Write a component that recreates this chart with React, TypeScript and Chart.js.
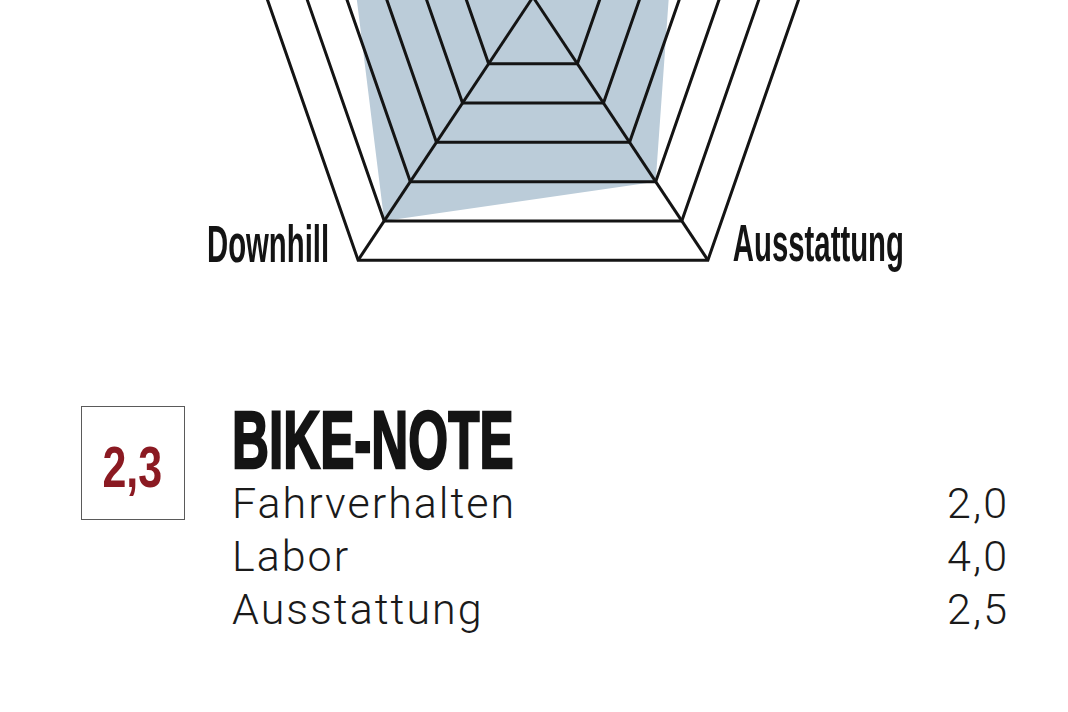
import React, { useEffect, useRef } from 'react';
import { Chart, RadialLinearScale, registerables } from 'chart.js';

Chart.register(...registerables);

// radar data, clockwise from the top spoke (only the two bottom spokes are inside the crop)
const axisLabels = ['Uphill', 'Labor', 'Ausstattung', 'Downhill', 'Fahrverhalten'];
const radarValues = [4, 2.4, 4, 5, 3.4];
const ringValues = [1, 2, 3, 4, 5, 6];
const scaleMin = -0.7;
const scaleMax = 6;

// score block under the chart
const scoreLabels = ['Fahrverhalten', 'Labor', 'Ausstattung'];
const scoreValues = [2.0, 4.0, 2.5];
const totalScore = 2.3;

// spoke angles in degrees, clockwise from 12 o'clock.
// the printed pentagon is a little narrower at the bottom than a regular one
const axisAngles = [0, 72, 146.4, 213.6, 288];

class PentagonScale extends RadialLinearScale {
  static id = 'pentagon';
  getIndexAngle(index: number) {
    return (axisAngles[index % axisAngles.length] * Math.PI) / 180;
  }
}
Chart.register(PentagonScale);

const fmt = (v: number) => v.toFixed(1).replace('.', ',');

const INK = '#141414';
const FILL = 'rgb(187, 204, 217)';

// draws the spoke names in a squeezed bold face, sitting on the outer ring's corners
const axisLabelPlugin = {
  id: 'axisLabels',
  afterDraw(chart: any) {
    const scale = chart.scales.r;
    const ctx: CanvasRenderingContext2D = chart.ctx;
    ctx.save();
    ctx.fillStyle = INK;
    ctx.font = 'bold 51px "Liberation Sans", Arial, sans-serif';
    ctx.textBaseline = 'alphabetic';
    axisLabels.forEach((label, i) => {
      const p = scale.getPointPosition(i, scale.drawingArea);
      const dx = p.x - scale.xCenter;
      let x = p.x;
      let y = p.y - 14;
      let align: CanvasTextAlign = 'center';
      if (dx < -1) {
        align = 'right';
        x = p.x - 29;
        y = p.y + 2;
      } else if (dx > 1) {
        align = 'left';
        x = p.x + 25;
        y = p.y + 1;
      }
      ctx.save();
      ctx.translate(x, y);
      ctx.scale(0.575, 1);
      ctx.textAlign = align;
      ctx.fillText(label, 0, 0);
      ctx.restore();
    });
    ctx.restore();
  },
};

const RadarChart: React.FC = () => {
  const canvasRef = useRef<HTMLCanvasElement>(null);
  const chartInstance = useRef<Chart | null>(null);

  useEffect(() => {
    if (!canvasRef.current) return;
    if (chartInstance.current) chartInstance.current.destroy();

    chartInstance.current = new Chart(canvasRef.current, {
      type: 'radar',
      data: {
        labels: axisLabels,
        datasets: [
          {
            data: radarValues,
            backgroundColor: FILL,
            borderColor: 'transparent',
            borderWidth: 0,
            pointRadius: 0,
            pointHoverRadius: 0,
            fill: 'start',
          },
        ],
      },
      options: {
        animation: false,
        responsive: true,
        maintainAspectRatio: false,
        events: [],
        layout: { padding: 0 },
        plugins: {
          legend: { display: false },
          tooltip: { enabled: false },
        },
        scales: {
          r: {
            type: 'pentagon' as any,
            min: scaleMin,
            max: scaleMax,
            afterBuildTicks: (scale: any) => {
              scale.ticks = [scaleMin, ...ringValues].map((v) => ({ value: v }));
            },
            ticks: { display: false },
            pointLabels: { display: false },
            // grid above the filled area, as in print
            grid: { color: INK, lineWidth: 3, z: 1 },
            angleLines: { color: INK, lineWidth: 3 },
          },
        },
      },
      plugins: [axisLabelPlugin],
    } as any);

    return () => {
      if (chartInstance.current) {
        chartInstance.current.destroy();
        chartInstance.current = null;
      }
    };
  }, []);

  return <canvas ref={canvasRef}></canvas>;
};

const condensed = '"Liberation Sans", Arial, sans-serif';
const light = 'Roboto, "Open Sans", "Liberation Sans", sans-serif';

const App: React.FC = () => {
  return (
    <div
      style={{
        position: 'fixed',
        left: 0,
        top: 0,
        width: 1068,
        height: 712,
        overflow: 'hidden',
        background: '#fff',
      }}
    >
      {/* the chart is cropped: its centre sits just above the top edge */}
      <div style={{ position: 'absolute', left: -1, top: -319, width: 1068, height: 632 }}>
        <RadarChart />
      </div>

      <div
        style={{
          position: 'absolute',
          left: 81,
          top: 406,
          width: 104,
          height: 114,
          border: '1px solid #5a5a5a',
          boxSizing: 'border-box',
        }}
      />
      <div
        style={{
          position: 'absolute',
          left: 80,
          top: 438,
          width: 104,
          textAlign: 'center',
          font: `bold 58px/58px ${condensed}`,
          color: '#8b1a22',
          whiteSpace: 'nowrap',
        }}
      >
        <span style={{ display: 'inline-block', transform: 'scaleX(0.74)' }}>{fmt(totalScore)}</span>
      </div>

      <div
        style={{
          position: 'absolute',
          left: 232,
          top: 400,
          font: `bold 81px/81px ${condensed}`,
          color: INK,
          whiteSpace: 'nowrap',
        }}
      >
        <span
          style={{
            display: 'inline-block',
            transform: 'scaleX(0.632)',
            transformOrigin: 'left center',
            WebkitTextStroke: `2.5px ${INK}`,
          }}
        >
          BIKE-NOTE
        </span>
      </div>

      {scoreLabels.map((label, i) => (
        <div
          key={label}
          style={{
            position: 'absolute',
            left: 232,
            width: 777,
            top: 482 + i * 52.75,
            display: 'flex',
            justifyContent: 'space-between',
            font: `300 43px/43px ${light}`,
            letterSpacing: 2,
            color: '#1a1a1a',
            whiteSpace: 'nowrap',
          }}
        >
          <span>{label}</span>
          <span>{fmt(scoreValues[i])}</span>
        </div>
      ))}
    </div>
  );
};

export default App;
